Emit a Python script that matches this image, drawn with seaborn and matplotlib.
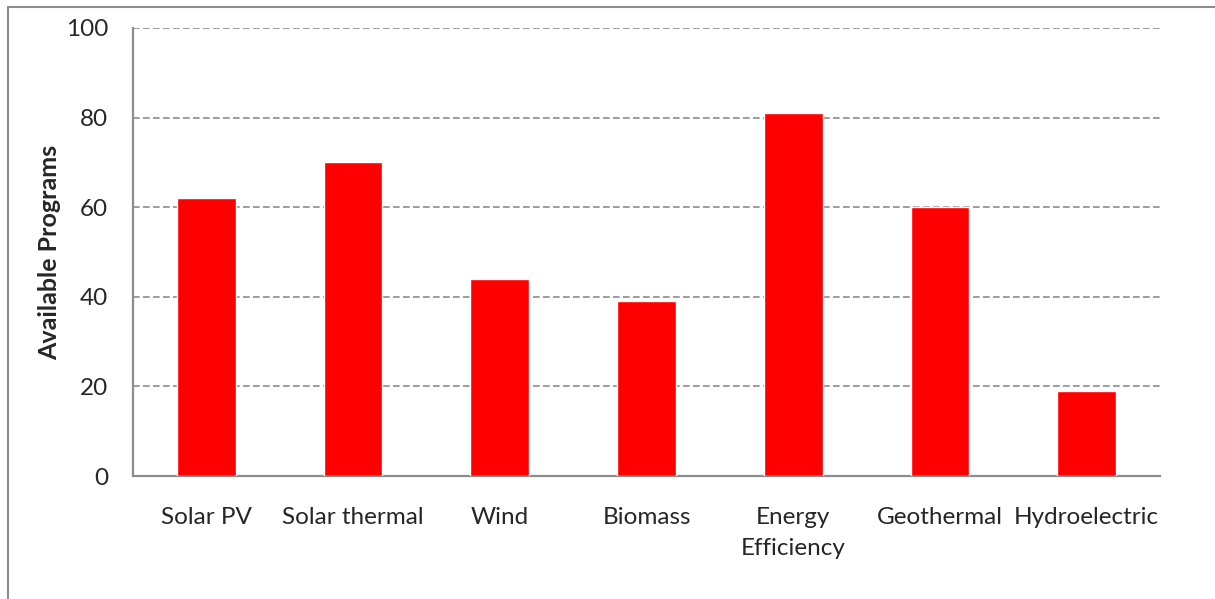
import matplotlib
matplotlib.use("Agg")
import matplotlib.pyplot as plt
import seaborn as sns
import pandas as pd
from matplotlib.patches import Rectangle

categories = ["Solar PV", "Solar thermal", "Wind", "Biomass",
              "Energy\nEfficiency", "Geothermal", "Hydroelectric"]
programs = [62, 70, 44, 39, 81, 60, 19]
y_ticks = [0, 20, 40, 60, 80, 100]

df = pd.DataFrame({"category": categories, "programs": programs})

sns.set_theme(style="white")
plt.rcParams["font.family"] = ["Lato", "DejaVu Sans"]

fig = plt.figure(figsize=(12.15, 5.99), dpi=100)
ax = fig.add_axes([0.1095, 0.2053, 0.8452, 0.748])

sns.barplot(data=df, x="category", y="programs", color="#ff0000",
            saturation=1, width=0.4, ax=ax, zorder=3)

ax.set_ylim(0, 100)
ax.set_xlim(-0.5, len(categories) - 0.5)
ax.set_yticks(y_ticks)
ax.set_yticklabels([str(t) for t in y_ticks], fontsize=17.5)
ax.set_xticks(range(len(categories)))
ax.set_xticklabels(categories, fontsize=17.5, linespacing=1.6, va="top")
ax.tick_params(axis="y", length=0, pad=18)
ax.tick_params(axis="x", length=0, pad=22)

for t in y_ticks[1:]:
    ax.axhline(t, color="#8c8c8c", linestyle=(0, (4, 2)), linewidth=1.2, zorder=1)

ax.set_xlabel("")
ax.set_ylabel("Available Programs", fontsize=18, fontweight="bold", labelpad=3)

for side in ["top", "right"]:
    ax.spines[side].set_visible(False)
for side in ["left", "bottom"]:
    ax.spines[side].set_color("#8c8c8c")
    ax.spines[side].set_linewidth(1.6)

# chart area outline (runs off the right and bottom edges)
fig.patches.append(Rectangle((8 / 1215, -0.1), 1.2, 1 - 7 / 599 + 0.1,
                             transform=fig.transFigure, fill=False,
                             edgecolor="#8c8c8c", linewidth=1.5, zorder=0))

fig.savefig("out.png", dpi=100, facecolor="white")
